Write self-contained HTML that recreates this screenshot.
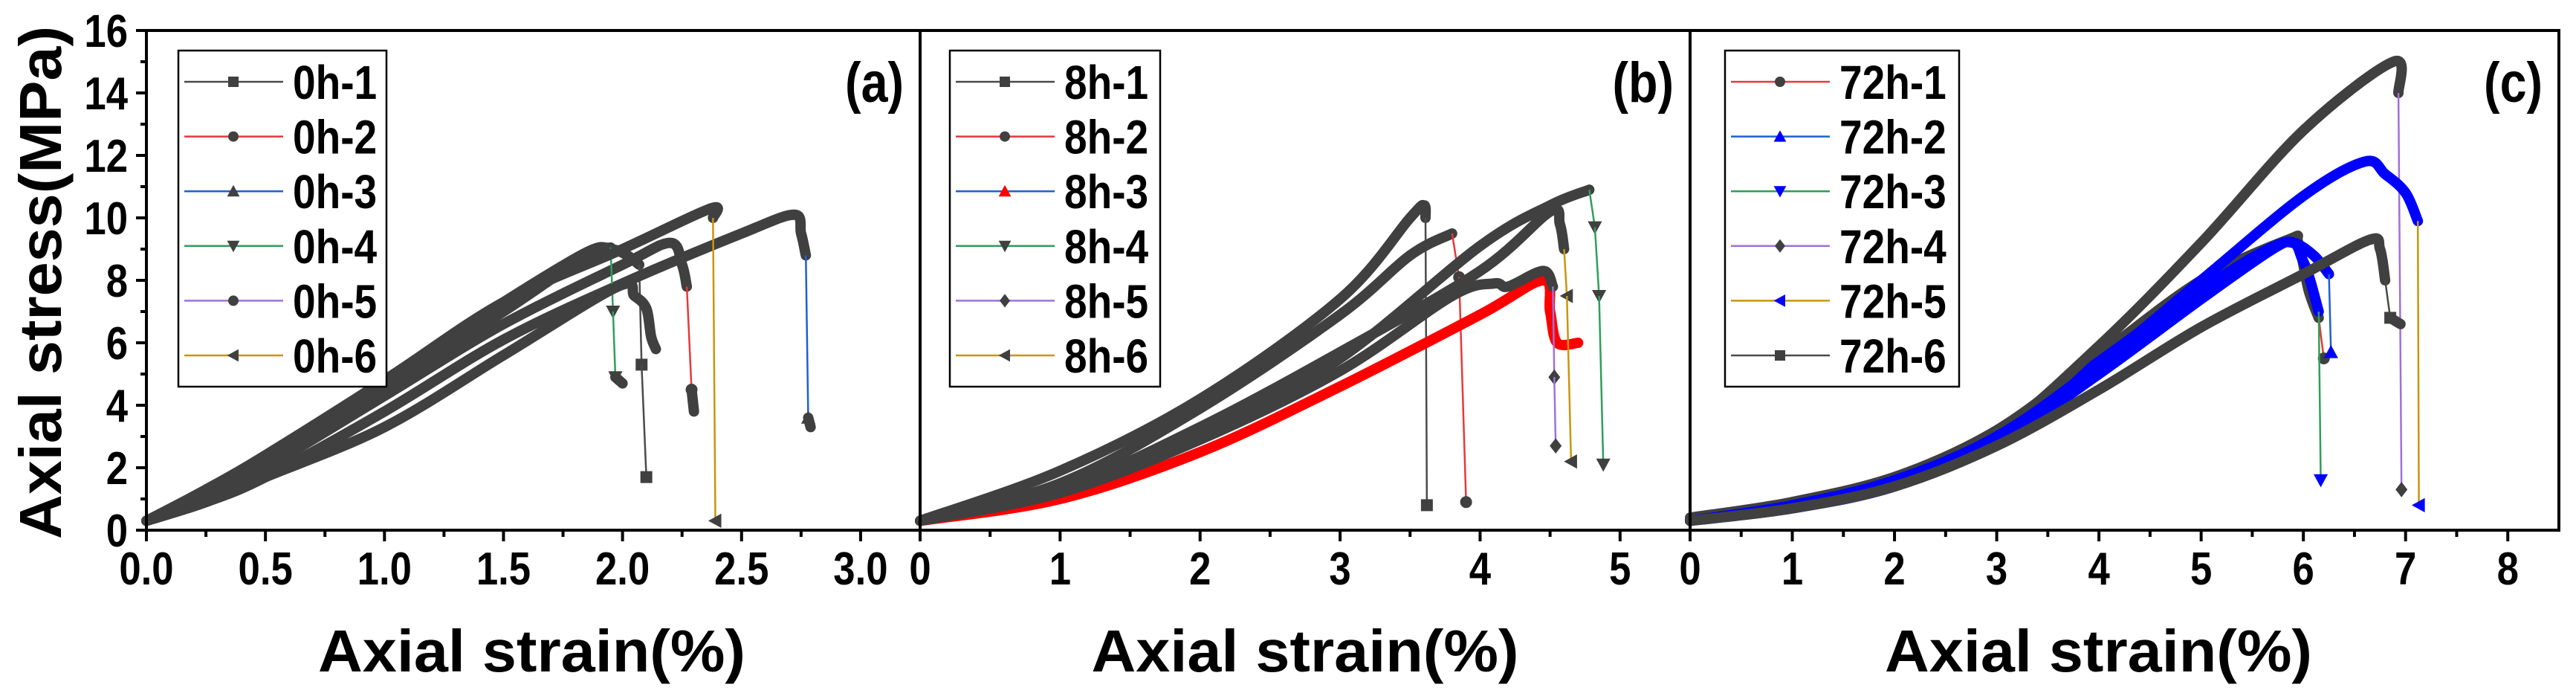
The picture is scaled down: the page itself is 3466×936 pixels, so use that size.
<!DOCTYPE html>
<html><head><meta charset="utf-8"><style>
html,body{margin:0;padding:0;background:#fff;}
svg{display:block;}
text{font-family:"Liberation Sans",Arial,sans-serif;font-weight:bold;fill:#000;}
</style></head><body>
<svg id="chart" width="3466" height="936" viewBox="0 0 3466 936" xmlns="http://www.w3.org/2000/svg">
<text x="0" y="0" font-size="80" text-anchor="middle" textLength="690" lengthAdjust="spacingAndGlyphs" transform="translate(82,380) rotate(-90)">Axial stress(MPa)</text>
</svg>
<script>
// ---- data ----
const panelALabels = ["0h-1","0h-2","0h-3","0h-4","0h-5","0h-6"];
const panelALineColors = ["#4a4a4a","#e8383b","#1f5fd0","#2f9e5a","#a070d8","#c8960a"];
const panelAMarkers = ["square","circle","up","down","circle","left"];
const panelAMarkerColors = ["#404040","#404040","#404040","#404040","#404040","#404040"];
const a1 = [[0,0.3],[0.25,1.2],[0.5,2.3],[1,4.8],[1.5,7.3],[1.85,8.9],[1.95,9.0],[2.02,8.8],[2.07,8.5],[2.08,5.3],[2.1,1.7]];
const a2 = [[0,0.3],[0.25,1.0],[0.5,2.0],[1,4.3],[1.5,6.6],[2.0,8.5],[2.2,9.2],[2.25,8.5],[2.27,7.8],[2.29,4.5],[2.3,3.8]];
const a3 = [[0,0.3],[0.25,0.9],[0.5,1.7],[1,3.8],[1.5,6.1],[2,7.9],[2.5,9.5],[2.72,10.1],[2.75,9.5],[2.77,8.8],[2.78,3.6],[2.79,3.3]];
const a4 = [[0,0.3],[0.25,1.2],[0.5,2.3],[1,4.6],[1.5,7.0],[1.85,8.8],[1.95,9.05],[1.96,7.0],[1.97,4.9],[2.0,4.7]];
const a5 = [[0,0.3],[0.25,0.9],[0.5,1.7],[1,3.3],[1.5,5.6],[1.98,7.8],[2.05,7.5],[2.1,7.1],[2.12,6.2],[2.14,5.8]];
const a6 = [[0,0.3],[0.25,1.3],[0.5,2.4],[1,4.8],[1.5,7.3],[2.0,9.0],[2.37,10.3],[2.38,10.0],[2.39,0.3]];

const panelBLabels = ["8h-1","8h-2","8h-3","8h-4","8h-5","8h-6"];
const panelBLineColors = ["#4a4a4a","#e8383b","#1f5fd0","#2f9e5a","#a070d8","#c8960a"];
const panelBMarkers = ["square","circle","up","down","diamond","left"];
const panelBMarkerColors = ["#404040","#404040","#ff0000","#404040","#404040","#404040"];
const b1 = [[0,0.3],[1,1.9],[2,4.2],[3,7.4],[3.5,10.0],[3.6,10.4],[3.61,10.0],[3.62,0.8]];
const b2 = [[0,0.3],[1,1.5],[2,3.9],[3,6.9],[3.5,8.8],[3.8,9.5],[3.85,8.1],[3.9,0.9]];
const b3 = [[0,0.3],[1,1.0],[2,2.5],[3,4.6],[4,6.9],[4.45,8.0],[4.5,7.0],[4.55,6.0],[4.7,6.0]];
const b4 = [[0,0.3],[1,1.3],[2,3.0],[3,5.5],[4,9.1],[4.5,10.4],[4.78,10.9],[4.82,9.7],[4.85,7.5],[4.88,2.1]];
const b5 = [[0,0.3],[1,1.2],[2,2.9],[3,5.1],[3.8,7.5],[4.1,7.9],[4.2,7.8],[4.45,8.3],[4.52,7.8],[4.53,4.9],[4.54,2.7]];
const b6 = [[0,0.3],[1,1.3],[2,3.3],[3,5.7],[4,8.3],[4.5,10.2],[4.57,9.8],[4.6,9.0],[4.62,7.5],[4.65,2.2]];

const panelCLabels = ["72h-1","72h-2","72h-3","72h-4","72h-5","72h-6"];
const panelCLineColors = ["#e8383b","#1f5fd0","#2f9e5a","#a070d8","#c8960a","#4a4a4a"];
const panelCMarkers = ["circle","up","down","diamond","left","square"];
const panelCMarkerColors = ["#404040","#0000ff","#0000ff","#404040","#0000ff","#404040"];
const c1 = [[0,0.3],[1,0.9],[2,1.7],[3,3.2],[4,5.6],[5,8.0],[5.85,9.3],[5.95,9.2],[6.05,7.7],[6.15,6.8],[6.2,5.5]];
const c2 = [[0,0.3],[1,0.7],[2,1.4],[3,2.8],[4,5.0],[5,7.4],[5.7,9.0],[5.9,9.2],[6.1,8.8],[6.25,8.2],[6.27,5.7]];
const c3 = [[0,0.3],[1,0.8],[2,1.6],[3,3.0],[4,5.4],[5,7.7],[5.8,9.2],[6.0,8.6],[6.15,7.0],[6.17,1.6]];
const c4 = [[0,0.4],[1,0.9],[2,1.7],[3,3.1],[4,5.9],[5,9.2],[6,12.8],[6.88,15.0],[6.93,14.0],[6.96,1.3]];
const c5 = [[0,0.3],[1,0.8],[2,1.6],[3,3.0],[4,5.3],[5,8.0],[6,10.7],[6.6,11.8],[6.8,11.4],[7.0,10.8],[7.12,9.9],[7.13,0.8]];
const c6 = [[0,0.3],[1,0.7],[2,1.4],[3,2.7],[4,4.5],[5,6.5],[6,8.2],[6.65,9.3],[6.75,9.0],[6.8,8.0],[6.85,6.8],[6.95,6.6]];

const yTicks = [0,2,4,6,8,10,12,14,16];
const aTicks = ["0.0","0.5","1.0","1.5","2.0","2.5","3.0"];
const bTicks = ["0","1","2","3","4","5"];
const cTicks = ["0","1","2","3","4","5","6","7","8"];

// ---- drawing ----
const svg = document.getElementById('chart');
const NS = 'http://www.w3.org/2000/svg';
const TOP = 41, BOT = 713, YMAX = 16;
function yScale(v){ return BOT - (v / YMAX) * (BOT - TOP); }
function mk(tag, attrs, parent){ const e = document.createElementNS(NS, tag); for (const k in attrs) e.setAttribute(k, attrs[k]); (parent||svg).appendChild(e); return e; }

function marker(kind, x, y, s, color, parent){
  let e;
  if (kind === 'square') e = mk('rect', {x:x-s, y:y-s, width:2*s, height:2*s, fill:color}, parent);
  else if (kind === 'circle') e = mk('circle', {cx:x, cy:y, r:s, fill:color}, parent);
  else {
    let p;
    if (kind === 'up') p = [[x,y-s*1.2],[x-s*1.2,y+s],[x+s*1.2,y+s]];
    else if (kind === 'down') p = [[x,y+s*1.2],[x-s*1.2,y-s],[x+s*1.2,y-s]];
    else if (kind === 'left') p = [[x-s*1.2,y],[x+s,y-s*1.2],[x+s,y+s*1.2]];
    else p = [[x,y-s*1.3],[x+s,y],[x,y+s*1.3],[x-s,y]];
    e = mk('polygon', {points:p.map(q=>q.join(',')).join(' '), fill:color}, parent);
  }
  return e;
}

function smoothPath(P){
  let d = 'M' + P[0][0] + ',' + P[0][1];
  for (let i = 0; i < P.length - 1; i++){
    const p0 = P[i-1] || P[i], p1 = P[i], p2 = P[i+1], p3 = P[i+2] || P[i+1];
    const c1x = p1[0] + (p2[0]-p0[0])/6, c1y = p1[1] + (p2[1]-p0[1])/6;
    const c2x = p2[0] - (p3[0]-p1[0])/6, c2y = p2[1] - (p3[1]-p1[1])/6;
    d += ' C' + c1x + ',' + c1y + ' ' + c2x + ',' + c2y + ' ' + p2[0] + ',' + p2[1];
  }
  return d;
}

function panel(cfg){
  const L = cfg.left, R = cfg.right, xmax = cfg.xmax;
  const xScale = v => L + (v / xmax) * (R - L);
  cfg.series.forEach((pts, i) => {
    const g = mk('g', {});
    
    
    const P = pts.map(p => [xScale(p[0]), yScale(p[1])]);
    let run = [P[0]];
    const flush = () => {
      if (run.length > 1){
        const pa = mk('path', {d:smoothPath(run), fill:'none', stroke:cfg.markerColors[i], 'stroke-width':14, 'stroke-linecap':'round', 'stroke-linejoin':'round'}, g);
        
        
      }
    };
    for (let k = 1; k < P.length; k++){
      const [x1,y1] = P[k-1], [x2,y2] = P[k];
      const steep = Math.abs(y2 - y1) > 4 * Math.abs(x2 - x1) + 20;
      if (steep){
        flush();
        run = [P[k]];
        const ln = mk('line', {x1, y1, x2, y2, stroke:cfg.lineColors[i], 'stroke-width':2.5}, g);
        
        
        const m = marker(cfg.markers[i], x2, y2, 8, cfg.markerColors[i], g);
        
        
      } else run.push(P[k]);
    }
    flush();
  });
  const fr = mk('rect', {x:L, y:TOP, width:R-L, height:BOT-TOP, fill:'none', stroke:'#000', 'stroke-width':4});
  
  
  const step = cfg.tickStep;
  cfg.ticks.forEach((t, i) => {
    const v = i * step;
    const x = xScale(v);
    mk('line', {x1:x, y1:BOT, x2:x, y2:BOT+15, stroke:'#000', 'stroke-width':4});
    const mx = xScale(v + step/2);
    if (mx < R) mk('line', {x1:mx, y1:BOT, x2:mx, y2:BOT+9, stroke:'#000', 'stroke-width':4});
    const tx = mk('text', {x:0, y:0, 'font-size':62, 'text-anchor':'middle', transform:'translate(' + x + ',786) scale(0.85,1)'});
    tx.textContent = t;
    
    
  });
  const xt = mk('text', {x:(L+R)/2 + cfg.titleShift, y:903, 'font-size':80, 'text-anchor':'middle', textLength:575, lengthAdjust:'spacingAndGlyphs'});
  xt.textContent = 'Axial strain(%)';
  
  
  const pl = mk('text', {x:0, y:0, 'font-size':76, 'text-anchor':'end', transform:'translate(' + (R - 22) + ',137) scale(0.85,1)'});
  pl.textContent = cfg.tag;
  
  
  const lx = L + cfg.legOff, lw = cfg.legW;
  const lg = mk('rect', {x:lx, y:68, width:lw, height:452, fill:'#fff', stroke:'#000', 'stroke-width':2.5});
  
  
  cfg.labels.forEach((lab, i) => {
    const y = 110 + i * 73.6;
    const ll = mk('line', {x1:lx+8, y1:y, x2:lx+141, y2:y, stroke:cfg.lineColors[i], 'stroke-width':2.5});
    
    
    const lm = marker(cfg.markers[i], lx+74, y, 7, cfg.markerColors[i]);
    
    
    const lt = mk('text', {x:0, y:0, 'font-size':64, transform:'translate(' + (lx+154) + ',' + (y+23) + ') scale(0.86,1)'});
    lt.textContent = lab;
    
    
  });
}

yTicks.forEach((t, i) => {
  const y = yScale(t);
  mk('line', {x1:183, y1:y, x2:197, y2:y, stroke:'#000', 'stroke-width':4});
  if (i < yTicks.length - 1){
    const my = yScale(t + 1);
    mk('line', {x1:189, y1:my, x2:197, y2:my, stroke:'#000', 'stroke-width':4});
  }
  const tx = mk('text', {x:0, y:0, 'font-size':62, 'text-anchor':'end', transform:'translate(172,' + (y+22) + ') scale(0.85,1)'});
  tx.textContent = String(t);
  
  
});

panel({id:'panel-a', left:197, right:1238, xmax:3.25, tickStep:0.5, ticks:aTicks, tag:'(a)', titleShift:-2,
  series:[a1,a2,a3,a4,a5,a6], labels:panelALabels, lineColors:panelALineColors, markers:panelAMarkers, markerColors:panelAMarkerColors,
  legOff:43, legW:280});
panel({id:'panel-b', left:1238, right:2274, xmax:5.5, tickStep:1, ticks:bTicks, tag:'(b)', titleShift:0,
  series:[b1,b2,b3,b4,b5,b6], labels:panelBLabels, lineColors:panelBLineColors, markers:panelBMarkers, markerColors:panelBMarkerColors,
  legOff:40, legW:283});
panel({id:'panel-c', left:2274, right:3443, xmax:8.5, tickStep:1, ticks:cTicks, tag:'(c)', titleShift:-35,
  series:[c1,c2,c3,c4,c5,c6], labels:panelCLabels, lineColors:panelCLineColors, markers:panelCMarkers, markerColors:panelCMarkerColors,
  legOff:47, legW:315});
</script>
</body></html>
